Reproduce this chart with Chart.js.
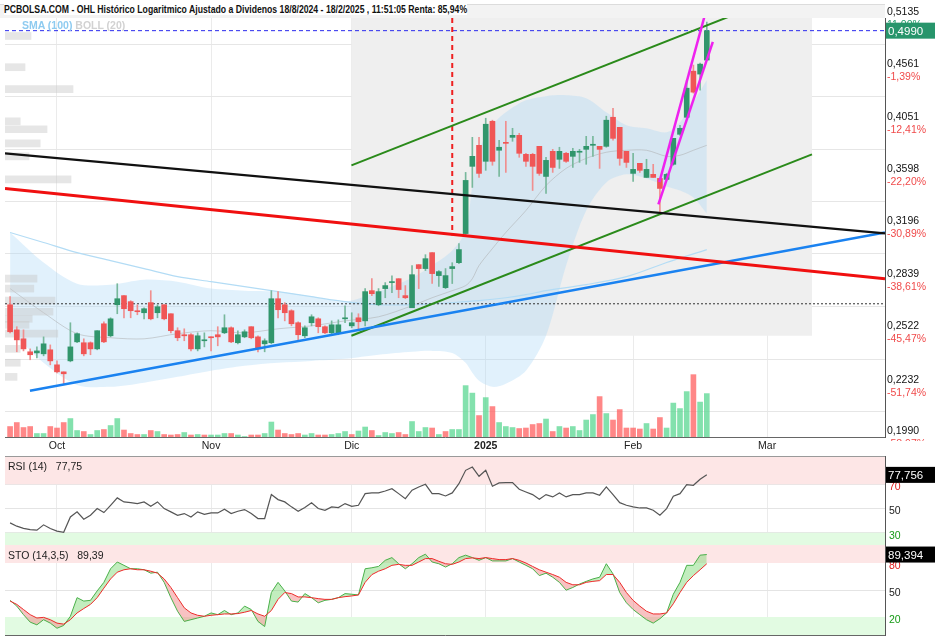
<!DOCTYPE html>
<html>
<head>
<meta charset="utf-8">
<script src="https://cdn.jsdelivr.net/npm/chart.js@4.4.1/dist/chart.umd.min.js"></script>
<style>
  body { margin: 0; background: #fff; width: 935px; height: 637px; overflow: hidden; position: relative;
         font-family: "Liberation Sans", Arial, sans-serif; }
  canvas { position: absolute; left: 0; }
  #band { position: absolute; left: 0; top: 4px; width: 885px; height: 13px; background: #f3f3f3; border-top: 1px solid #dcdcdc; }
  #title { position: absolute; left: 4px; top: 3px; font-weight: bold; font-size: 11.5px; color: #111; background: #fff;
           white-space: nowrap; transform-origin: 0 0; }
  #legend { position: absolute; left: 22px; top: 19px; font-size: 10.5px; font-weight: bold; z-index: 2; }
  .lab { position: absolute; left: 8px; font-size: 10.5px; color: #222; z-index: 2; white-space: pre; }
  .sep { position: absolute; left: 5px; width: 880px; height: 1px; background: #9a9a9a; z-index: 2; }
</style>
</head>
<body>
<div id="band"></div>
<div id="title">PCBOLSA.COM - OHL Histórico Logaritmico Ajustado a Dividenos 18/8/2024 - 18/2/2025 , 11:51:05 Renta: 85,94%</div>
<canvas id="main" width="935" height="456" style="top:0"></canvas>
<canvas id="rsi" width="935" height="89" style="top:456px"></canvas>
<canvas id="sto" width="935" height="92" style="top:545px"></canvas>
<div id="legend"><span style="color:#8ecbf0">SMA (100)</span> <span style="color:#d2d2d2">BOLL (20)</span></div>
<div class="sep" style="top:456px"></div>
<div class="lab" style="top:460px">RSI (14)   77,75</div>
<div class="lab" style="top:549px">STO (14,3,5)   89,39</div>
<script>
const FONT = '"Liberation Sans", Arial, sans-serif';

// daily candles, index 0 = 20/9/2024 ... 104 = 18/2/2025
const opens = [.2684,.2536,.2485,.2413,.2407,.2402,.2424,.2343,.2306,.2364,
  .2468,.2463,.2463,.2429,.2571,.2502,.2684,.2740,.2703,.2648,
  .2636,.2697,.2636,.2684,.2630,.2531,.2508,.2508,.2429,.2474,
  .2496,.2508,.2519,.2548,.2463,.2496,.2554,.2496,.2457,.2463,
  .2721,.2684,.2648,.2577,.2502,.2577,.2600,.2554,.2519,.2519,
  .2600,.2559,.2606,.2588,.2771,.2684,.2784,.2822,.2847,.2740,
  .2666,.2939,.2913,.3020,.2867,.2790,.2913,.2952,.3153,.3671,
  .3850,.3713,.4065,.3807,.3876,.3920,.3938,.3772,.3772,.3841,
  .3588,.3798,.3730,.3781,.3755,.3790,.3815,.3850,.3841,.3841,
  .4102,.4010,.3798,.3613,.3696,.3580,.3605,.3572,.3564,.3688,
  .3947,.4102,.4553,.4523,.4669];
const highs = [.2734,.2554,.2536,.2429,.2440,.2496,.2451,.2364,.2306,.2577,
  .2519,.2485,.2468,.2531,.2583,.2606,.2815,.2740,.2709,.2684,
  .2666,.2771,.2684,.2684,.2630,.2548,.2542,.2514,.2519,.2519,
  .2496,.2554,.2624,.2554,.2531,.2536,.2554,.2502,.2485,.2771,
  .2765,.2697,.2654,.2583,.2559,.2624,.2606,.2559,.2588,.2594,
  .2678,.2636,.2630,.2784,.2847,.2784,.2822,.2866,.2847,.2803,
  .2933,.2939,.3006,.3020,.2900,.2913,.2952,.3083,.3621,.3920,
  .3920,.4093,.4075,.3894,.4065,.4001,.3956,.3781,.3781,.3841,
  .3747,.3815,.3833,.3790,.3824,.3815,.3929,.3929,.3841,.4112,
  .4187,.4010,.3798,.3781,.3696,.3730,.3688,.3572,.3613,.3911,
  .4029,.4462,.4616,.4637,.5088];
const lows = [.2519,.2413,.2418,.2370,.2380,.2391,.2343,.2301,.2245,.2359,
  .2463,.2391,.2397,.2424,.2463,.2496,.2630,.2606,.2606,.2624,
  .2600,.2594,.2606,.2594,.2519,.2474,.2474,.2418,.2418,.2440,
  .2418,.2446,.2514,.2463,.2457,.2491,.2485,.2413,.2413,.2457,
  .2606,.2588,.2559,.2479,.2491,.2559,.2519,.2514,.2514,.2508,
  .2577,.2548,.2531,.2559,.2740,.2678,.2727,.2759,.2727,.2721,
  .2666,.2784,.2900,.2816,.2797,.2784,.2816,.2946,.3146,.3500,
  .3580,.3638,.3680,.3588,.3621,.3885,.3747,.3671,.3476,.3597,
  .3453,.3621,.3654,.3704,.3662,.3704,.3688,.3755,.3654,.3833,
  .3894,.3680,.3662,.3548,.3621,.3580,.3580,.3307,.3556,.3680,
  .3938,.4093,.4332,.4361,.4669];
const closes = [.2525,.2479,.2429,.2397,.2418,.2457,.2364,.2306,.2296,.2440,
  .2514,.2402,.2429,.2531,.2468,.2600,.2721,.2660,.2648,.2642,
  .2660,.2600,.2672,.2600,.2531,.2491,.2502,.2429,.2502,.2479,
  .2491,.2496,.2548,.2468,.2508,.2525,.2491,.2429,.2474,.2721,
  .2654,.2636,.2571,.2508,.2548,.2612,.2554,.2519,.2565,.2565,
  .2606,.2577,.2583,.2765,.2752,.2765,.2803,.2828,.2778,.2727,
  .2873,.2913,.2979,.2880,.2893,.2867,.2926,.3041,.3556,.3755,
  .3613,.4038,.3713,.3833,.3867,.3938,.3781,.3713,.3671,.3613,
  .3721,.3662,.3798,.3713,.3798,.3798,.3841,.3859,.3815,.4075,
  .3911,.3738,.3704,.3646,.3638,.3646,.3580,.3492,.3605,.3911,
  .4001,.4381,.4342,.4626,.4990];
// volume, millions of shares
const volumes = [2.1,2.9,1.9,2.1,0.7,0.7,2.1,1.8,2.9,3.7,
  1.3,1.1,0.5,1.3,1.5,2.3,3.7,1.4,0.7,0.5,
  0.5,1.3,1.1,0.5,0.4,0.5,0.9,0.4,0.5,0.4,
  0.4,0.4,0.7,0.7,0.4,0.1,0.4,0.4,0.7,3.0,
  1.4,0.7,0.5,0.7,0.4,0.7,0.4,0.4,0.5,0.7,
  1.1,0.5,1.2,2.0,1.3,0.3,0.9,0.7,0.9,0.5,
  3.1,1.1,1.9,1.8,0.5,1.1,1.5,1.5,10.3,8.8,
  4.3,7.9,6.1,2.9,2.1,1.9,1.7,1.8,2.5,2.7,
  3.6,1.1,2.1,1.8,2.1,1.3,3.4,4.5,8.1,4.7,
  3.4,5.5,1.8,1.8,1.6,2.7,1.6,3.9,1.8,6.8,
  5.7,9.1,12.5,7.0,8.7];

// Bollinger (20) and SMA (100) read at sample days
const bollDays = [0,5,10,15,20,25,30,35,40,45,50,55,60,63,66,68,69,70,72,74,77,80,83,86,89,92,95,98,100,102,104];
const bollUpper = [.3161,.2953,.2815,.2809,.2841,.2828,.2784,.2771,.2765,.2734,.2703,.2765,.2853,.2933,.3034,.3175,.3515,.3807,.4029,.4149,.4263,.4303,.4312,.4283,.4149,.4029,.4001,.3965,.4056,.4245,.4462];
const bollMid = [.2784,.2636,.2514,.2491,.2485,.2514,.2531,.2519,.2542,.2559,.2588,.2612,.2678,.2727,.2771,.2803,.2847,.2933,.3048,.3161,.3322,.3515,.3654,.3738,.3790,.3807,.3807,.3755,.3764,.3807,.3850];
const bollLower = [.2531,.2354,.2239,.2229,.2250,.2280,.2312,.2338,.2354,.2364,.2375,.2397,.2413,.2418,.2407,.2354,.2301,.2260,.2229,.2245,.2312,.2502,.2933,.3322,.3540,.3605,.3572,.3508,.3476,.3421,.3299];
const smaDays = [0,5,10,15,20,25,30,35,40,45,50,55,60,63,66,70,74,77,80,86,92,98,104];
const sma100 = [.3161,.3090,.3020,.2966,.2913,.2860,.2828,.2797,.2765,.2734,.2703,.2684,.2684,.2690,.2697,.2709,.2727,.2746,.2771,.2809,.2860,.2953,.3041];

// volume by price (left profile)
const profilePrices = [.4930,.4594,.4371,.4065,.3992,.3867,.3755,.3564,.2847,.2784,.2709,.2642,.2600,.2565,.2514,.2429,.2354,.2280];
const profileVolumes = [6.5,5,17,3.8,10.5,8.8,6,16.5,8,7.2,12.5,12,6.8,6,13.2,3.8,3.8,3];

// drawn lines: [day, price] pairs
const blackLine = [[-0.76,.3781],[130.6,.3154]];
const redLine = [[-0.76,.3492],[130.6,.2847]];
const blueLine = [[2.97,.2209],[130.6,.3161]];
const greenUpper = [[50.95,.3679],[119.7,.5546]];
const greenLower = [[50.95,.2502],[119.7,.3772]];
const pinkA = [[96.77,.3368],[104.9,.4865]];
const pinkB = [[96.92,.3542],[103.64,.5150]];
const redMark = [[66,.5135],[66,.3139]];
const channelBox = [50.95,119.7];
const channelFloor = .2502;
const lastPrice = 0.499;
const dottedLevel = 0.2690;

const priceTicks = [0.5135,0.4561,0.4051,0.3598,0.3196,0.2839,0.2522,0.2232,0.1990];
const priceLabels = ['0,5135','0,4561','0,4051','0,3598','0,3196','0,2839','0,2522','0,2232','0,1990'];
const pctLabels = ['11,00%','-1,39%','-12,41%','-22,20%','-30,89%','-38,61%','-45,47%','-51,74%','-58,97%'];
const monthTicks = [7,30,51,71,93,113];
const monthLabels = ['Oct','Nov','Dic','2025','Feb','Mar'];

const rsiValues = [38.2,35.5,33.7,32.7,32.2,36.6,33.6,31.4,30.5,43.1,
  47.3,41.2,44.5,50.0,46.7,52.7,58.8,55.5,54.9,54.1,
  55.5,51.9,55.5,50.0,47.3,44.5,45.9,43.1,47.3,45.3,
  46.4,46.4,49.5,45.9,47.8,49.2,45.9,41.8,41.8,61.5,
  57.4,55.5,51.4,47.8,50.8,54.7,50.0,48.6,51.4,50.8,
  54.1,51.9,52.7,62.3,62.9,62.9,64.5,66.4,62.3,58.2,
  65.1,67.8,70.0,62.3,62.3,60.4,62.9,70.5,81.5,84.2,
  76.6,81.5,68.4,71.1,71.4,71.4,65.9,63.7,61.5,57.7,
  61.5,59.6,62.9,59.6,61.5,61.5,62.9,62.9,61.0,67.8,
  61.5,54.9,52.7,51.4,50.5,50.5,48.6,44.5,50.0,60.1,
  62.3,69.7,69.2,74.1,77.756];
const stoK = [38.5,32.1,22.6,14.3,11.3,17.0,13.2,7.5,10.6,20.8,
  41.5,37.7,38.5,49.0,58.5,73.6,81.1,77.4,73.6,73.6,
  72.5,68.7,69.8,58.5,41.5,26.4,15.1,17.0,18.9,20.8,
  24.5,22.6,27.2,22.6,24.5,32.1,28.3,15.1,9.4,47.2,
  58.5,49.0,37.7,36.6,46.0,41.5,35.8,38.5,39.6,41.5,
  46.0,45.3,44.5,73.6,74.7,76.2,83.0,86.0,79.2,73.6,
  79.2,86.0,89.8,81.1,79.2,75.5,79.2,86.0,88.7,86.0,
  83.0,86.0,82.3,82.3,82.3,84.9,81.1,77.4,73.6,66.0,
  68.7,64.2,58.5,49.8,52.8,56.6,59.6,62.3,64.2,79.2,
  67.9,47.2,35.8,28.3,22.6,17.0,13.2,18.1,24.5,45.3,
  58.5,77.4,77.4,88.7,89.394];
const stoD = [37.7,34.0,28.3,22.6,18.9,19.6,17.0,13.2,12.1,17.0,
  24.5,29.4,34.0,41.5,52.1,62.3,69.8,72.5,73.6,72.5,
  72.5,70.9,68.7,62.3,52.8,41.5,30.2,24.5,21.9,20.8,
  21.9,22.6,23.4,23.4,23.8,25.3,27.2,23.4,20.8,27.2,
  39.6,47.2,46.0,42.3,42.3,41.5,40.4,39.6,39.6,41.5,
  42.6,43.4,44.5,58.5,67.1,70.9,73.6,77.4,78.5,77.4,
  77.4,81.1,84.9,84.9,81.9,79.2,78.5,81.1,84.9,85.7,
  84.9,86.0,84.9,83.8,83.8,84.9,83.0,80.0,76.2,72.5,
  69.8,67.2,64.2,58.5,55.8,55.8,58.5,59.6,60.4,67.2,
  67.2,58.5,47.2,38.5,32.1,26.4,23.4,23.4,24.5,34.7,
  47.2,58.5,66.0,72.5,79.2];

const X_MIN = -0.76, X_MAX = 130.6;
const GREEN = '#31966c', RED = '#f05656';

// squeeze the title to the narrow width of the original
const titleEl = document.getElementById('title');
titleEl.style.transform = 'scaleX(' + (463 / titleEl.scrollWidth) + ')';

const pts = arr => arr.map(p => ({ x: p[0], y: p[1] }));
const seg = (data, color, width, extra) => Object.assign({
  type: 'line', data: pts(data), borderColor: color, borderWidth: width,
  pointRadius: 0, fill: false, order: 5
}, extra || {});

const up = closes.map((c, i) => c >= opens[i]);
const volUp = closes.map((c, i) => i === 0 ? c >= opens[i] : c >= closes[i - 1]);

// percentage labels under each price tick, and value boxes at the right
const sideText = {
  id: 'sideText',
  afterDraw(chart, args, opts) {
    const ctx = chart.ctx;
    const sc = chart.scales[opts.axis];
    const left = chart.chartArea.right;
    ctx.save();
    ctx.beginPath();
    ctx.rect(left, 0, 50, chart.chartArea.bottom + 4);
    ctx.clip();
    ctx.textBaseline = 'middle';
    (opts.under || []).forEach(t => {
      ctx.font = '10.5px ' + FONT;
      ctx.fillStyle = t.text.startsWith('-') ? '#f04a4a' : '#1f9a68';
      ctx.fillText(t.text, left + 2, sc.getPixelForValue(t.value) + 7);
    });
    (opts.items || []).forEach(t => {
      const y = sc.getPixelForValue(t.value);
      ctx.fillStyle = t.bg;
      ctx.fillRect(left + 1, y - 8, 49, 16);
      ctx.fillStyle = '#fff';
      ctx.font = '11.5px ' + FONT;
      ctx.fillText(t.text, left + 3, y + 1);
    });
    ctx.restore();
  }
};

const noPad = a => { a.paddingTop = 0; a.paddingBottom = 0; a.paddingLeft = 0; a.paddingRight = 0; };

const monthAxis = (showLabels) => ({
  type: 'linear', min: X_MIN, max: X_MAX, offset: false,
  afterBuildTicks: a => { a.ticks = monthTicks.map(v => ({ value: v })); },
  grid: { color: '#ebebeb', drawTicks: false, offset: false },
  border: { display: true, color: '#666' },
  ticks: {
    display: showLabels, autoSkip: false, maxRotation: 0, padding: 3, color: '#222',
    callback: (v, i) => monthLabels[i],
    font: c => ({ family: FONT, size: 10.5, weight: (c.tick && c.tick.value === 71) ? 'bold' : 'normal' })
  },
  afterFit: a => { noPad(a); a.height = showLabels ? 19 : 0; }
});

// ---------- main price panel ----------
new Chart(document.getElementById('main'), {
  type: 'bar',
  data: {
    datasets: [
      { type: 'line', data: [{ x: channelBox[0], y: 0.5135 }, { x: channelBox[1], y: 0.5135 }],
        borderWidth: 0, pointRadius: 0, backgroundColor: '#efefef', fill: { value: channelFloor }, order: 100 },
      { type: 'line', data: bollDays.map((d, i) => ({ x: d, y: bollUpper[i] })), borderWidth: 0,
        pointRadius: 0, backgroundColor: 'rgba(170,215,245,0.35)', fill: '+1', tension: 0.3, order: 90 },
      { type: 'line', data: bollDays.map((d, i) => ({ x: d, y: bollLower[i] })), borderWidth: 0,
        pointRadius: 0, fill: false, tension: 0.3, order: 90 },
      { type: 'line', data: bollDays.map((d, i) => ({ x: d, y: bollMid[i] })), borderColor: 'rgba(170,170,170,0.5)',
        borderWidth: 1, pointRadius: 0, fill: false, tension: 0.3, order: 85 },
      { type: 'line', data: smaDays.map((d, i) => ({ x: d, y: sma100[i] })), borderColor: '#b3dcf5',
        borderWidth: 1.2, pointRadius: 0, fill: false, tension: 0.3, order: 80 },
      { type: 'bar', indexAxis: 'y', xAxisID: 'xp', yAxisID: 'y',
        data: profilePrices.map((p, i) => ({ y: p, x: profileVolumes[i] })),
        backgroundColor: 'rgba(200,200,200,0.45)', barThickness: 7, grouped: false, order: 75 },
      { type: 'bar', yAxisID: 'yv', data: volumes.map((v, i) => ({ x: i, y: v })),
        backgroundColor: volUp.map(u => u ? 'rgba(90,215,145,0.75)' : 'rgba(255,95,95,0.75)'),
        barThickness: 5, grouped: false, order: 70 },
      seg(blackLine, '#111', 2.2),
      seg(redLine, '#f01010', 3),
      seg(blueLine, '#1a82f0', 2.5),
      seg(greenUpper, '#2a8a1a', 2),
      seg(greenLower, '#2a8a1a', 2),
      seg(pinkA, '#ee22ee', 2.5, { order: 4 }),
      seg(pinkB, '#ee22ee', 2.5, { order: 4 }),
      seg(redMark, '#ee2020', 2, { borderDash: [5, 4] }),
      seg([[X_MIN, dottedLevel], [X_MAX, dottedLevel]], '#333', 1, { borderDash: [2, 2], order: 60 }),
      seg([[X_MIN, lastPrice], [X_MAX, lastPrice]], '#2a2aee', 1, { borderDash: [4, 3], order: 60 }),
      { type: 'bar', data: highs.map((h, i) => ({ x: i, y: [lows[i], h] })),
        backgroundColor: up.map(u => u ? '#78b89c' : '#f08f8f'), barThickness: 1, grouped: false, order: 11 },
      { type: 'bar', data: opens.map((o, i) => ({ x: i, y: [Math.min(o, closes[i]), Math.max(o, closes[i])] })),
        backgroundColor: up.map(u => u ? GREEN : RED), barThickness: 5, minBarLength: 1, grouped: false, order: 10 }
    ]
  },
  options: {
    responsive: false, animation: false, devicePixelRatio: 1,
    layout: { padding: { left: 5, top: 18, right: 0, bottom: 0 } },
    plugins: {
      legend: { display: false }, tooltip: { enabled: false },
      sideText: { axis: 'y', under: priceTicks.map((v, i) => ({ value: v, text: pctLabels[i] })),
                  items: [{ value: lastPrice, text: '0,4990', bg: '#27956b' }] }
    },
    scales: {
      x: monthAxis(true),
      xp: { type: 'linear', display: false, min: 0, max: 220, offset: false },
      y: {
        type: 'logarithmic', position: 'right', min: 0.199, max: 0.5135,
        afterBuildTicks: a => { a.ticks = priceTicks.map(v => ({ value: v })); },
        grid: { color: '#e6e6e6', drawTicks: false },
        border: { display: true, color: '#555' },
        ticks: { callback: (v, i) => priceLabels[i], labelOffset: -6, padding: 2, color: '#111',
                 font: { family: FONT, size: 10.5 } },
        afterFit: a => { noPad(a); a.width = 50; }
      },
      yv: { type: 'linear', display: false, min: 0, max: 84 }
    }
  },
  plugins: [sideText]
});

// ---------- RSI ----------
const bandLine = (y, to, color) => ({
  data: [{ x: X_MIN, y: y }, { x: X_MAX, y: y }], borderWidth: 0, pointRadius: 0,
  backgroundColor: color, fill: { value: to }, order: 50
});
const levelAxis = (min, max, ticks, colors) => ({
  type: 'linear', position: 'right', min: min, max: max,
  afterBuildTicks: a => { a.ticks = ticks.map(v => ({ value: v })); },
  grid: { color: '#e4e4e4', drawTicks: false },
  border: { display: true, color: '#555' },
  ticks: { padding: 4, labelOffset: 3, color: c => colors[c.index], font: { family: FONT, size: 10.5 } },
  afterFit: a => { noPad(a); a.width = 50; }
});

new Chart(document.getElementById('rsi'), {
  type: 'line',
  data: {
    datasets: [
      bandLine(100, 70, '#fde6e6'),
      bandLine(0, 30, '#e2fbe2'),
      { data: rsiValues.map((v, i) => ({ x: i, y: v })), borderColor: '#555', borderWidth: 1.2,
        pointRadius: 0, fill: false, order: 1 }
    ]
  },
  options: {
    responsive: false, animation: false, devicePixelRatio: 1,
    layout: { padding: { left: 5, right: 0, top: 0, bottom: 0 } },
    plugins: { legend: { display: false }, tooltip: { enabled: false },
      sideText: { axis: 'y', items: [{ value: 77.756, text: '77,756', bg: '#000' }] } },
    scales: { x: monthAxis(false), y: levelAxis(20, 93.3, [30, 50, 70], ['#169a16', '#222', '#e01a1a']) }
  },
  plugins: [sideText]
});

// ---------- Stochastic ----------
new Chart(document.getElementById('sto'), {
  type: 'line',
  data: {
    datasets: [
      bandLine(120, 80, '#fde6e6'),
      bandLine(-20, 20, '#e2fbe2'),
      { data: stoK.map((v, i) => ({ x: i, y: v })), borderColor: '#49b049', borderWidth: 1,
        pointRadius: 0, order: 2,
        fill: { target: '+1', above: 'rgba(120,215,110,0.45)', below: 'rgba(240,120,120,0.45)' } },
      { data: stoD.map((v, i) => ({ x: i, y: v })), borderColor: '#ee2a2a', borderWidth: 1,
        pointRadius: 0, fill: false, order: 1 }
    ]
  },
  options: {
    responsive: false, animation: false, devicePixelRatio: 1,
    layout: { padding: { left: 5, right: 0, top: 0, bottom: 2 } },
    plugins: { legend: { display: false }, tooltip: { enabled: false },
      sideText: { axis: 'y', items: [{ value: 89.394, text: '89,394', bg: '#000' }] } },
    scales: { x: monthAxis(false), y: levelAxis(0, 100, [20, 50, 80], ['#169a16', '#222', '#e01a1a']) }
  },
  plugins: [sideText]
});
</script>
</body>
</html>
